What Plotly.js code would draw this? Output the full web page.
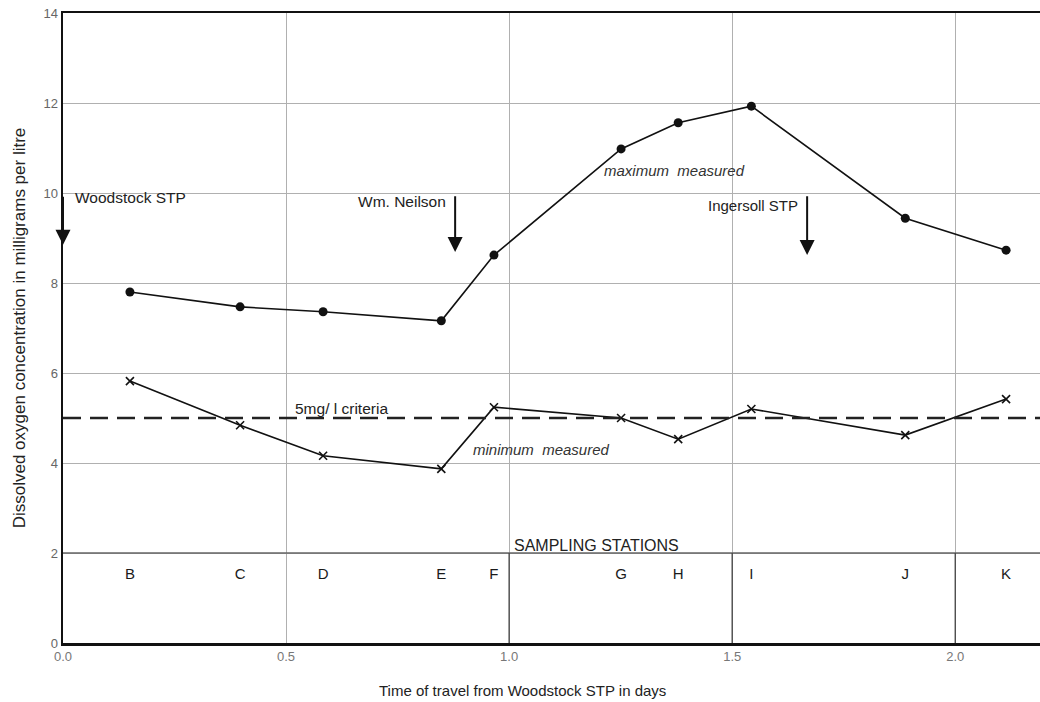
<!DOCTYPE html>
<html>
<head>
<meta charset="utf-8">
<script src="https://cdn.plot.ly/plotly-3.0.1.min.js"></script>
<style>html,body{margin:0;padding:0;background:#fff;}#chart{width:1040px;height:702px;}</style>
</head>
<body>
<div id="chart"></div>
<script>
// Sampling stations and time of travel (days)
const stations = ["B","C","D","E","F","G","H","I","J","K"];
const travelDays = [0.150, 0.397, 0.583, 0.848, 0.966, 1.251, 1.379, 1.543, 1.888, 2.114];
// Dissolved oxygen (mg/l)
const maxMeasured = [7.80, 7.47, 7.36, 7.16, 8.62, 10.98, 11.56, 11.93, 9.44, 8.73];
const minMeasured = [5.82, 4.84, 4.16, 3.87, 5.24, 5.00, 4.53, 5.20, 4.62, 5.42];
const criteria = 5;
const stationLabelLevel = 1.5;
// Outfalls (time of travel in days)
const outfallNames = ["Woodstock STP", "Wm. Neilson", "Ingersoll STP"];
const outfallDays = [0.0, 0.879, 1.668];
const xTickVals = [0, 0.5, 1.0, 1.5, 2.0];
const xTickText = ["0.0", "0.5", "1.0", "1.5", "2.0"];
const yTickVals = [0, 2, 4, 6, 8, 10, 12, 14];

const FONT = "Liberation Sans, Arial, Helvetica, sans-serif";
const XMAX = 2.19;

const traces = [
  {
    x: travelDays, y: maxMeasured, mode: "lines+markers", type: "scatter",
    line: {color: "#111", width: 1.6},
    marker: {symbol: "circle", size: 9, color: "#111"},
    hoverinfo: "skip", showlegend: false
  },
  {
    x: travelDays, y: minMeasured, mode: "lines+markers", type: "scatter",
    line: {color: "#111", width: 1.6},
    marker: {symbol: "x-thin", size: 8, line: {color: "#111", width: 1.6}},
    hoverinfo: "skip", showlegend: false
  },
  {
    x: travelDays, y: travelDays.map(() => stationLabelLevel), mode: "text", type: "scatter",
    text: stations, textposition: "middle center",
    textfont: {family: FONT, size: 15, color: "#1a1a1a"},
    hoverinfo: "skip", showlegend: false
  }
];

const shapes = [
  {type: "line", xref: "paper", x0: 0, x1: 1, yref: "y", y0: criteria, y1: criteria,
   line: {color: "#222", width: 2.5, dash: "18px,9px"}},
  {type: "line", xref: "paper", x0: 0, x1: 1, yref: "y", y0: 2, y1: 2,
   line: {color: "#666", width: 1.3}}
];
[1.0, 1.5, 2.0].forEach(v => shapes.push({type: "line", xref: "x", x0: v, x1: v, yref: "y", y0: 0, y1: 2,
  line: {color: "#444", width: 1.3}}));

const annotations = [];
// outfall arrows
const arrowTop = [9.95, 9.96, 9.96];
const arrowTip = [8.85, 8.69, 8.62];
outfallDays.forEach((d, i) => {
  annotations.push({
    x: d, y: arrowTip[i], xref: "x", yref: "y", axref: "x", ayref: "y",
    ax: d, ay: arrowTop[i], showarrow: true, arrowhead: 2, arrowsize: 1.5, arrowwidth: 2,
    arrowcolor: "#111", text: ""
  });
});
const txt = (x, y, t, anchor, size, extra) => Object.assign({x: x, y: y, xref: "x", yref: "y", text: t,
  showarrow: false, xanchor: anchor, yanchor: "middle", font: {family: FONT, size: size, color: "#222"}}, extra || {});
annotations.push(txt(0.022, 9.9, outfallNames[0], "left", 15.5));
annotations.push(txt(0.862, 9.82, outfallNames[1], "right", 15.5));
annotations.push(txt(1.651, 9.73, outfallNames[2], "right", 15));
annotations.push(txt(1.37, 10.5, "<i>maximum  measured</i>", "center", 15, {font: {family: FONT, size: 15, color: "#333"}}));
annotations.push(txt(1.072, 4.3, "<i>minimum  measured</i>", "center", 15, {font: {family: FONT, size: 15, color: "#333"}}));
annotations.push(txt(0.625, 5.22, "5mg/ l criteria", "center", 15.5));
annotations.push({x: 1.0, y: 2.0, xref: "x", yref: "y", text: "SAMPLING STATIONS", showarrow: false,
  xanchor: "left", yanchor: "bottom", xshift: 3, yshift: -3, font: {family: FONT, size: 16, color: "#222"}});
// x-axis title (placed to match the reference, slightly left of the plot centre)
annotations.push({x: 0.47, y: 0, xref: "paper", yref: "paper", yanchor: "top", yshift: -37,
  text: "Time of travel from Woodstock STP in days", showarrow: false,
  font: {family: FONT, size: 15, color: "#222"}});

const layout = {
  width: 1040, height: 702,
  margin: {l: 63, r: 0, t: 13, b: 59},
  paper_bgcolor: "#fff", plot_bgcolor: "#fff",
  font: {family: FONT, color: "#222"},
  showlegend: false,
  xaxis: {
    range: [0, XMAX], tickvals: xTickVals, ticktext: xTickText,
    showgrid: true, gridcolor: "#b0b0b0", gridwidth: 1, zeroline: false,
    showline: true, linecolor: "#111", linewidth: 2.5, mirror: true, ticks: "",
    tickfont: {family: FONT, size: 13, color: "#777"}
  },
  yaxis: {
    range: [0, 14], tickvals: yTickVals,
    showgrid: true, gridcolor: "#b0b0b0", gridwidth: 1, zeroline: false,
    showline: true, linecolor: "#111", linewidth: 2.5, ticks: "",
    tickfont: {family: FONT, size: 13, color: "#666"},
    title: {text: "Dissolved oxygen concentration in milligrams per litre", font: {family: FONT, size: 17, color: "#222"}, standoff: 14}
  },
  shapes: shapes,
  annotations: annotations
};

Plotly.newPlot("chart", traces, layout, {staticPlot: true, displayModeBar: false});
</script>
</body>
</html>
